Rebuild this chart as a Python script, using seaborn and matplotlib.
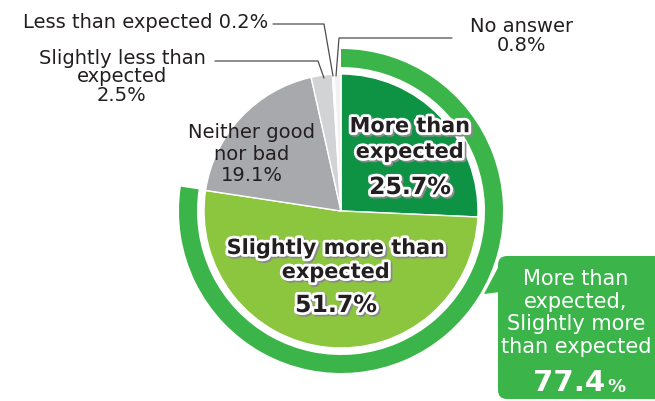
import matplotlib
matplotlib.use("Agg")
import matplotlib.pyplot as plt
import matplotlib.patheffects as pe
from matplotlib.patches import FancyBboxPatch, Polygon
import seaborn as sns

# data, clockwise from 12 o'clock
categories = ["More than expected", "Slightly more than expected", "Neither good nor bad",
              "Slightly less than expected", "Less than expected", "No answer"]
shares = [25.7, 51.7, 19.1, 2.5, 0.2, 0.8]
colors = ["#0e9345", "#8cc63f", "#a7a9ac", "#d1d3d4", "#e9eaeb", "#f2f2f2"]
ring_color = "#3bb54a"
positive_total = 77.4

sns.set_theme(style="white")
plt.rcParams['font.family'] = ['DejaVu Sans']

W, H = 655, 401
fig = plt.figure(figsize=(W / 100, H / 100), dpi=100)
ax = fig.add_axes([0, 0, 1, 1])


def Y(y):
    return H - y


cx, cy = 341, Y(211)

ax.pie(shares, colors=colors, startangle=90, counterclock=False,
       center=(cx, cy), radius=137, frame=True,
       wedgeprops=dict(edgecolor="white", linewidth=1))

# outer ring for the positive answers
ax.pie([positive_total, 100 - positive_total], colors=[ring_color, "none"],
       startangle=90, counterclock=False, center=(cx, cy), radius=162,
       frame=True, wedgeprops=dict(width=18, edgecolor="none"))
ax.set_xlim(0, W)
ax.set_ylim(0, H)
ax.set_aspect("equal")
ax.axis("off")

dark = "#231f20"
small = dict(fontsize=14, color=dark, ha="center", va="center", linespacing=0.95)
ax.text(268, Y(22), "Less than expected 0.2%", **{**small, "ha": "right"})
ax.text(122, Y(77), "Slightly less than\nexpected\n2.5%", **small)
ax.text(522, Y(36), "No answer\n0.8%", **{**small, "linespacing": 1.05})
ax.text(252, Y(154), "Neither good\nnor bad\n19.1%", **{**small, "linespacing": 1.15})

lc = dict(color="#4d4d4d", linewidth=0.9)
ax.plot([273, 324, 333], [Y(24), Y(24), Y(76)], **lc)
ax.plot([215, 318, 324], [Y(61), Y(61), Y(78)], **lc)
ax.plot([336, 339, 452], [Y(76), Y(38), Y(38)], **lc)

outline = [pe.Stroke(linewidth=4, foreground="#8a8a8a", offset=(1.2, -1.2)),
           pe.Stroke(linewidth=4, foreground="white"), pe.Normal()]
big = dict(color=dark, ha="center", va="center", fontweight="bold",
           path_effects=outline)
ax.text(410, Y(139), "More than\nexpected", fontsize=15, linespacing=1.35, **big)
ax.text(410, Y(187), "25.7%", fontsize=17, **big)
ax.text(336, Y(260), "Slightly more than\nexpected", fontsize=15, linespacing=1.25, **big)
ax.text(336, Y(305), "51.7%", fontsize=17, **big)

# callout box
box = FancyBboxPatch((498, Y(399)), 175, 143, boxstyle="round,pad=0,rounding_size=9",
                     facecolor=ring_color, edgecolor="none")
ax.add_patch(box)
ax.add_patch(Polygon([(500, Y(264)), (500, Y(292)), (484, Y(294))],
                     closed=True, facecolor=ring_color, edgecolor="none"))
ax.text(576, Y(313), "More than\nexpected,\nSlightly more\nthan expected",
        fontsize=15, color="white", ha="center", va="center", linespacing=1.15)
ax.text(569, Y(383), "77.4", fontsize=21, color="white", ha="center", va="center",
        fontweight="bold")
ax.text(616, Y(387), "%", fontsize=13, color="white", ha="center", va="center",
        fontweight="bold")

fig.savefig("out.png", dpi=100)
